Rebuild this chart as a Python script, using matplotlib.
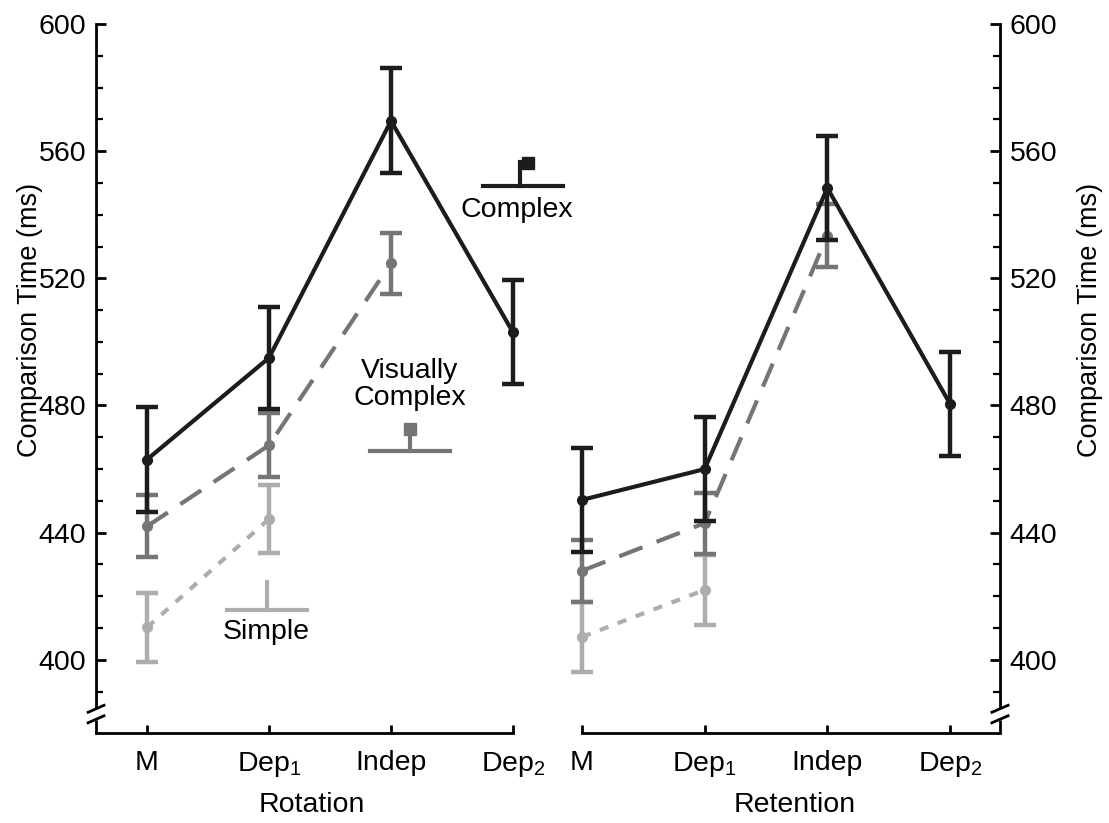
import numpy as np
import matplotlib
matplotlib.use("Agg")
from matplotlib import pyplot as plt

plt.rcParams["font.family"] = ["Liberation Sans", "DejaVu Sans"]
plt.rcParams["mathtext.default"] = "regular"

conditions = ["M", "Dep$_1$", "Indep", "Dep$_2$"]

# Rotation panel
rot_complex = [463, 495, 569.5, 503]
rot_complex_err = [16.5, 16, 16.5, 16.4]
rot_visual = [442, 467.5, 524.8]
rot_visual_err = [9.7, 10, 9.6]
rot_simple = [410.2, 444.3]
rot_simple_err = [10.8, 10.7]

# Retention panel
ret_complex = [450.3, 460, 548.4, 480.5]
ret_complex_err = [16.3, 16.3, 16.4, 16.4]
ret_visual = [428, 443, 533.4]
ret_visual_err = [9.7, 9.6, 9.9]
ret_simple = [407.2, 422]
ret_simple_err = [11, 11]

BLACK = "#1c1c1c"
DARK = "#757575"
LIGHT = "#adadad"
FS = 20.5


def draw_series(ax, y, err, color, ls, z):
    x = np.arange(len(y))
    ax.errorbar(x, y, yerr=err, color=color, ls=ls, lw=3, marker="o", ms=7,
                capsize=8, capthick=3.2, elinewidth=3.2, zorder=z,
                dash_capstyle="butt")


def break_marks(ax, xa):
    tr = ax.get_yaxis_transform()
    ax.plot([xa, xa], [377, 381], color="black", lw=2, transform=tr,
            clip_on=False, solid_capstyle="butt")
    for yc in (381.3, 384.6):
        ax.plot([xa - 0.018, xa + 0.018], [yc - 1.1, yc + 1.1], color="black",
                lw=2, transform=tr, clip_on=False)


def style_axes(ax, side, xlim, xbounds):
    ax.patch.set_visible(False)
    ax.set_xlim(*xlim)
    ax.set_ylim(377, 600)
    for s in ["top", "left", "right"]:
        ax.spines[s].set_visible(False)
    ax.spines[side].set_visible(True)
    ax.spines[side].set_linewidth(2)
    ax.spines[side].set_bounds(385.5, 600)
    ax.spines["bottom"].set_linewidth(2)
    ax.spines["bottom"].set_bounds(*xbounds)
    ax.set_xticks(range(4))
    ax.set_xticklabels(conditions, fontsize=FS)
    ax.set_yticks(np.arange(400, 601, 40))
    ax.set_yticks(np.arange(390, 601, 10), minor=True)
    ax.tick_params(axis="x", direction="in", length=6, width=2, pad=12)
    ax.tick_params(axis="y", which="major", direction="in", length=7, width=2,
                   labelsize=FS, pad=7)
    ax.tick_params(axis="y", which="minor", direction="in", length=5, width=1.6)
    if side == "right":
        ax.yaxis.tick_right()
        ax.tick_params(axis="y", which="both", right=True, left=False)
        break_marks(ax, 1.0)
    else:
        break_marks(ax, 0.0)


fig = plt.figure(figsize=(11.09, 8.23), dpi=100)
ax1 = fig.add_axes([0.0866, 0.1094, 0.398, 0.8615])
ax2 = fig.add_axes([0.4971, 0.1094, 0.4046, 0.8615])

draw_series(ax1, rot_simple, rot_simple_err, LIGHT, (0, (2.2, 2.4)), 2)
draw_series(ax1, rot_visual, rot_visual_err, DARK, (0, (6, 3.6)), 3)
draw_series(ax1, rot_complex, rot_complex_err, BLACK, "-", 4)

draw_series(ax2, ret_simple, ret_simple_err, LIGHT, (0, (2.2, 2.4)), 2)
draw_series(ax2, ret_visual, ret_visual_err, DARK, (0, (6, 3.6)), 3)
draw_series(ax2, ret_complex, ret_complex_err, BLACK, "-", 4)

style_axes(ax1, "left", (-0.418, 3.2), (-0.418, 3.0))
style_axes(ax2, "right", (-0.25, 3.407), (0.0, 3.407))

# stimulus icons
ax1.plot([2.754, 3.41], [549, 549], color=BLACK, lw=3, clip_on=False)
ax1.plot([3.057, 3.057], [549, 556.5], color=BLACK, lw=3, clip_on=False)
ax1.plot([3.12], [556.4], marker="s", ms=8, color=BLACK, clip_on=False)
ax1.text(3.03, 541.6, "Complex", ha="center", va="center", fontsize=FS)

ax1.plot([1.83, 2.48], [465.7, 465.7], color=DARK, lw=3, clip_on=False)
ax1.plot([2.156, 2.156], [465.7, 471], color=DARK, lw=3)
ax1.plot([2.156], [472.5], marker="s", ms=8, color=DARK)
ax1.text(2.156, 486.5, "Visually\nComplex", ha="center", va="center",
         fontsize=FS, linespacing=1.05)

ax1.plot([0.656, 1.31], [415.7, 415.7], color=LIGHT, lw=3)
ax1.plot([0.98, 0.98], [415.7, 424.5], color=LIGHT, lw=3)
ax1.text(0.98, 408.6, "Simple", ha="center", va="center", fontsize=FS)

fig.text(30 / 1109, 1 - 320 / 823, "Comparison Time (ms)", rotation=90,
         ha="center", va="center", fontsize=19.5)
fig.text(1090 / 1109, 1 - 320 / 823, "Comparison Time (ms)", rotation=90,
         ha="center", va="center", fontsize=19.5)
fig.text(312 / 1109, 1 - 805 / 823, "Rotation", ha="center", va="center",
         fontsize=FS)
fig.text(795 / 1109, 1 - 805 / 823, "Retention", ha="center", va="center",
         fontsize=FS)

plt.savefig("out.png", dpi=100)
